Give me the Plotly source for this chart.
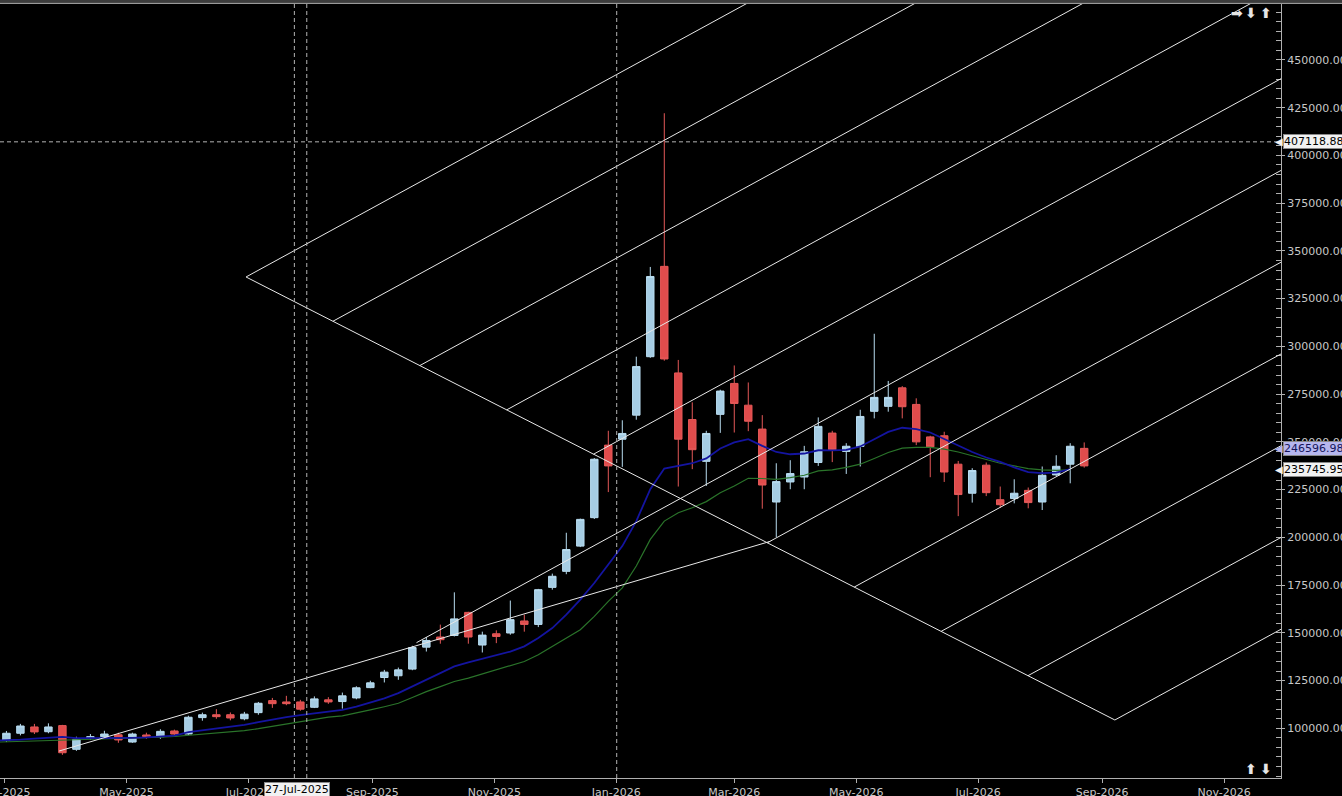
import pandas as pd
import plotly.graph_objects as go

# ---------------- data ----------------
candle_start = "2025-03-02"
n_weeks = 78
dates = pd.date_range(candle_start, periods=n_weeks, freq="7D")

opens = [93800, 97400, 100700, 98200, 101400, 89000, 94900, 95600, 96600, 92800,
         96500, 95600, 98600, 97000, 105600, 107100, 107100, 105000, 108200, 114500,
         113800, 113800, 111000, 114900, 114000, 115900, 121300, 126600, 127500, 131000,
         142500, 147800, 148600, 160700, 143600, 149500, 149900, 156200, 154400, 173800,
         182200, 195400, 210300, 248300, 251400, 264000, 294600, 341900, 286100, 261700,
         239800, 264400, 280600, 269200, 256700, 218500, 229000, 231600, 239200, 254600,
         245000, 247600, 266000, 268600, 278300, 269600, 252600, 253200, 238300, 223100,
         237800, 219700, 220300, 224600, 218500, 232700, 238300, 246597]
highs = [98600, 102300, 102300, 102600, 101800, 95600, 97000, 98700, 97700, 97700,
         97700, 99500, 99300, 106600, 108200, 110000, 108300, 108600, 113800, 115900,
         117000, 114900, 116700, 116300, 118700, 122000, 124900, 130600, 131800, 143200,
         147800, 154300, 171200, 161000, 150600, 151300, 166900, 159500, 173000, 181000,
         202400, 209800, 241500, 255800, 261300, 294600, 341600, 422100, 292900, 270700,
         255800, 277300, 290000, 281100, 264000, 238800, 240400, 247900, 262800, 255800,
         249300, 266800, 306600, 281900, 279200, 272800, 253200, 255300, 240000, 236200,
         239200, 226600, 230400, 226100, 237100, 243000, 249300, 249700]
lows = [92800, 96300, 97000, 97400, 86100, 88200, 93900, 94500, 92400, 92400,
        94500, 94500, 96300, 96500, 104000, 105000, 104200, 104200, 107100, 110700,
        112100, 109200, 110600, 112800, 110300, 115200, 121000, 124000, 125400, 130400,
        140200, 144300, 148100, 144300, 139700, 144600, 149000, 150600, 153000, 172600,
        180700, 194900, 209600, 223700, 236900, 261600, 294000, 292500, 226600, 235700,
        226900, 254700, 254900, 255600, 215000, 200100, 225200, 225200, 237400, 239400,
        233200, 237100, 262300, 265800, 262300, 248300, 231500, 229000, 211100, 218200,
        221600, 215400, 217800, 215200, 214300, 232100, 228300, 236500]
closes = [97400, 101200, 98100, 100700, 87200, 94200, 95600, 97000, 93900, 97000,
          95600, 98400, 97000, 105800, 107100, 106100, 105400, 107400, 113100, 112900,
          112900, 110000, 115400, 113800, 117000, 121200, 123800, 129400, 130600, 142300,
          146000, 146400, 157300, 147800, 148800, 148100, 156900, 154400, 172600, 179600,
          193600, 209400, 240900, 237400, 254400, 289400, 336600, 293400, 251400, 245900,
          254400, 276600, 270100, 260800, 227400, 229200, 233400, 244800, 258100, 245800,
          247700, 263300, 273300, 273300, 268400, 250000, 247400, 234200, 222400, 235000,
          223400, 217100, 223100, 218200, 232500, 237200, 247700, 237400]

ma_start = "2025-02-23"
ma_blue = [93500, 93700, 94100, 94600, 95000, 95500, 94800, 94800, 94900, 94900,
           95000, 95200, 95600, 96200, 98000, 98900, 99800, 100800, 101800, 103200,
           104700, 105800, 106900, 107900, 108600, 109600, 111300, 113400, 115700, 118400,
           121800, 125400, 128900, 132400, 134500, 136400, 138300, 140200, 142900, 147300,
           152500, 159500, 167400, 176100, 185800, 195400, 208500, 225200, 236000, 237400,
           238800, 241300, 246500, 249700, 251400, 247900, 244700, 243500, 243900, 245600,
           245500, 245800, 247600, 251400, 255200, 257400, 256700, 254900, 251400, 247900,
           244700, 241800, 239500, 236600, 234200, 233600, 233900, 235700]
ma_green = [92700, 92900, 93200, 93400, 93600, 93900, 94000, 94200, 94400, 94500,
            94800, 95000, 95300, 95700, 96300, 96900, 97400, 98000, 98800, 99800,
            101000, 102200, 103600, 104800, 105800, 106500, 107900, 109600, 111300, 113100,
            116100, 119200, 121800, 124500, 126300, 128500, 130600, 132700, 135000, 138500,
            142900, 147300, 151600, 158600, 166500, 173500, 185000, 198900, 208500, 212900,
            215500, 218700, 223400, 226900, 230900, 230800, 230400, 231300, 232500, 234800,
            235300, 236600, 238300, 241300, 244400, 246700, 247100, 247100, 246200, 244700,
            242600, 240900, 238800, 237400, 236000, 235300, 235100, 235300]
ma_dates = pd.date_range(ma_start, periods=len(ma_blue), freq="7D")

y_tick_values = [100000, 125000, 150000, 175000, 200000, 225000, 250000,
                 275000, 300000, 325000, 350000, 375000, 400000, 425000, 450000]

# drawing objects (chart annotations)
fan_base = [("2025-06-29 20:00", 336350), ("2026-09-07 08:00", 104350)]
fan_divisions = 10
ray_rise_per_day = 572
ray_back_days = {5: 132}
trend_line = [("2025-03-28 08:00", 88100), ("2026-03-19 00:00", 197900)]
crosshair_dates = ["2025-07-24 00:00", "2025-07-30 05:00", "2026-01-01 05:00"]
crosshair_price = 407118.88
price_tags = [(407118.88, "407118.88", "#f2f2f2", "#000000"),
              (246596.98, "246596.98", "#b6b6ee", "#14145a"),
              (235745.95, "235745.95", "#f2f2f2", "#000000")]
date_tag = ("2025-07-25 12:00", "27-Jul-2025")

x_range = ["2025-02-26 19:00", "2026-11-29 10:00"]
y_range = [73970, 479300]

# ---------------- figure ----------------
FONT = "DejaVu Sans"
fig = go.Figure()

fig.add_trace(go.Scatter(x=ma_dates, y=ma_green, mode="lines",
                         line=dict(color="#2a742a", width=1.2), hoverinfo="skip"))
fig.add_trace(go.Scatter(x=ma_dates, y=ma_blue, mode="lines",
                         line=dict(color="#1414a0", width=1.8), hoverinfo="skip"))

fig.add_trace(go.Candlestick(
    x=dates, open=opens, high=highs, low=lows, close=closes,
    increasing=dict(fillcolor="#a6cde4", line=dict(color="#b8dcf0", width=1)),
    decreasing=dict(fillcolor="#e04c4c", line=dict(color="#e45858", width=1)),
    whiskerwidth=0, hoverinfo="skip"))

shapes = []
line_style = dict(color="#e8e8e8", width=1)
(d0, p0), (d1, p1) = fan_base
t0, t1 = pd.Timestamp(d0), pd.Timestamp(d1)
shapes.append(dict(type="line", xref="x", yref="y", x0=d0, y0=p0, x1=d1, y1=p1, line=line_style))
for k in range(fan_divisions + 1):
    f = k / fan_divisions
    ts = t0 + (t1 - t0) * f
    ps = p0 + (p1 - p0) * f
    back = ray_back_days.get(k, 0)
    ts_start = ts - pd.Timedelta(days=back)
    ps_start = ps - ray_rise_per_day * back
    te = ts + pd.Timedelta(days=1000)
    pe = ps + ray_rise_per_day * 1000
    shapes.append(dict(type="line", xref="x", yref="y",
                       x0=ts_start.strftime("%Y-%m-%d %H:%M"), y0=ps_start,
                       x1=te.strftime("%Y-%m-%d %H:%M"), y1=pe, line=line_style))
shapes.append(dict(type="line", xref="x", yref="y",
                   x0=trend_line[0][0], y0=trend_line[0][1],
                   x1=trend_line[1][0], y1=trend_line[1][1], line=line_style))

dash_style = dict(color="#b4b4b4", width=1, dash="4px,3px")
for d in crosshair_dates:
    shapes.append(dict(type="line", xref="x", yref="paper", x0=d, x1=d, y0=0, y1=1, line=dash_style))
shapes.append(dict(type="line", xref="paper", yref="y", x0=0, x1=1,
                   y0=crosshair_price, y1=crosshair_price, line=dash_style))

# top window band
plot_h = 774
shapes.append(dict(type="rect", xref="paper", yref="paper", x0=-0.01, x1=1.06,
                   y0=1 + 0.5 / plot_h, y1=1 + 5 / plot_h, fillcolor="#3c3c3c", line=dict(width=0)))
shapes.append(dict(type="line", xref="paper", yref="paper", x0=-0.01, x1=1.06,
                   y0=1 + 0.6 / plot_h, y1=1 + 0.6 / plot_h, line=dict(color="#a8a8a8", width=1)))

annotations = []
for val, txt, bg, fg in price_tags:
    annotations.append(dict(xref="paper", yref="y", x=1, y=val, xanchor="left", yanchor="middle",
                            xshift=2, text=txt, showarrow=False, bgcolor=bg,
                            bordercolor="#8a8a8a", borderwidth=1, borderpad=0,
                            font=dict(family=FONT, size=11, color=fg)))
    annotations.append(dict(xref="paper", yref="y", x=1, y=val, xanchor="right", yanchor="middle",
                            xshift=4, text="◀", showarrow=False,
                            font=dict(family=FONT, size=10, color=bg)))
annotations.append(dict(xref="x", yref="paper", x=date_tag[0], y=0, yanchor="top", xanchor="center",
                        yshift=-4, text=date_tag[1], showarrow=False, bgcolor="#f2f2f2",
                        bordercolor="#8a8a8a", borderwidth=1, borderpad=0,
                        font=dict(family=FONT, size=11, color="#000000")))
# navigation arrows
plot_w = 1281
for px, py, ch in [(1237, 13, "➡"), (1251, 13, "⬇"), (1266, 13, "⬆"),
                   (1251, 769, "⬆"), (1266, 769, "⬇")]:
    annotations.append(dict(xref="paper", yref="paper", x=px / plot_w, y=1 - (py - 4) / plot_h,
                            xanchor="center", yanchor="middle", text="<b>" + ch + "</b>", showarrow=False,
                            font=dict(family=FONT, size=14, color="#e6e6e6")))

fig.update_layout(
    width=1342, height=796,
    margin=dict(l=0, r=61, t=4, b=18, autoexpand=False),
    paper_bgcolor="#000000", plot_bgcolor="#000000",
    showlegend=False, boxgap=0.24,
    shapes=shapes, annotations=annotations,
    font=dict(family=FONT, size=11, color="#c8c8c8"),
    xaxis=dict(type="date", range=x_range, rangeslider=dict(visible=False),
               tickformat="%b-%Y", dtick="M2", tick0="2025-01-01",
               ticks="outside", ticklen=4, tickcolor="#b0b0b0",
               ticklabeloverflow="allow",
               showline=True, linecolor="#b0b0b0", linewidth=1,
               showgrid=False, zeroline=False,
               tickfont=dict(family=FONT, size=11, color="#c8c8c8")),
    yaxis=dict(range=y_range, side="right", tickmode="array", tickvals=y_tick_values,
               tickformat=".2f", ticklabeloverflow="allow",
               ticks="outside", ticklen=3, tickcolor="#b0b0b0",
               showline=True, linecolor="#b0b0b0", linewidth=1,
               showgrid=False, zeroline=False,
               minor=dict(tickmode="linear", tick0=0, dtick=5000, ticks="inside", ticklen=5,
                          tickcolor="#b0b0b0", showgrid=False),
               tickfont=dict(family=FONT, size=11, color="#c8c8c8")),
)

fig.write_html("out.html", config={"displayModeBar": False},
               post_script="document.body.style.margin='0';document.body.style.background='#000';")
